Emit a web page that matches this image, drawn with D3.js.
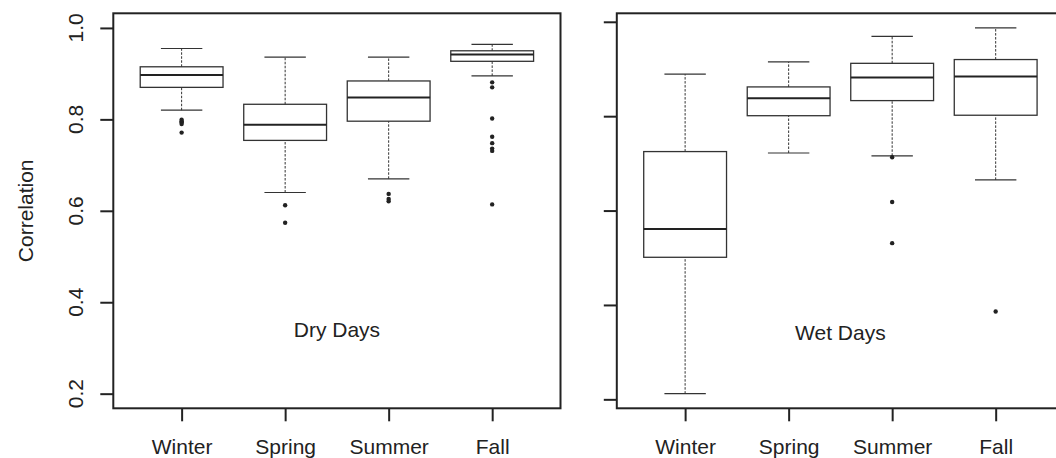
<!DOCTYPE html>
<html>
<head>
<meta charset="utf-8">
<script src="https://cdn.jsdelivr.net/npm/d3@7"></script>
<style>
  body { margin: 0; background: #fff; }
  svg text { font-family: "Liberation Sans", Arial, Helvetica, sans-serif; fill: #222; }
</style>
</head>
<body>
<svg id="chart" width="1056" height="458"></svg>
<script>
// ***** Data ***** //
var seasons = ['Winter', 'Spring', 'Summer', 'Fall'];

// [lower whisker, Q1, median, Q3, upper whisker]
var dryStats = [
    [0.820, 0.870, 0.897, 0.915, 0.955],
    [0.640, 0.754, 0.788, 0.833, 0.936],
    [0.670, 0.796, 0.848, 0.884, 0.936],
    [0.895, 0.927, 0.942, 0.950, 0.964]
];
var dryOutliers = [
    [0.799, 0.796, 0.793, 0.790, 0.771],
    [0.612, 0.574],
    [0.637, 0.626, 0.621],
    [0.881, 0.870, 0.802, 0.762, 0.748, 0.736, 0.731, 0.614]
];

var wetStats = [
    [0.212, 0.501, 0.561, 0.725, 0.889],
    [0.722, 0.801, 0.838, 0.862, 0.915],
    [0.716, 0.833, 0.882, 0.912, 0.969],
    [0.665, 0.802, 0.884, 0.920, 0.987]
];
var wetOutliers = [
    [],
    [],
    [0.713, 0.618, 0.531],
    [0.386]
];

var yTicks = [0.2, 0.4, 0.6, 0.8, 1.0];
var dryYlim = [0.2, 1.0];
var yLabel = 'Correlation';

// ***** Layout ***** //
var svg = d3.select('#chart');
var plotTop = 13.3, plotBottom = 408.3, plotW = 447.2;
var fontSize = '21px';

function pad(lim) {
    var r = (lim[1] - lim[0]) * 0.04;
    return [lim[0] - r, lim[1] + r];
}

function drawPanel(left, stats, outliers, ylim, title, showLabels) {
    var x = d3.scaleLinear().domain(pad([0.5, seasons.length + 0.5])).range([left, left + plotW]);
    var y = d3.scaleLinear().domain(pad(ylim)).range([plotBottom, plotTop]);
    var g = svg.append('g');
    var bw = 0.4, cw = 0.2;

    // whiskers
    stats.forEach(function (s, i) {
        var cx = x(i + 1);
        [[s[0], s[1]], [s[3], s[4]]].forEach(function (seg) {
            g.append('line')
                .attr('x1', cx).attr('x2', cx)
                .attr('y1', y(seg[0])).attr('y2', y(seg[1]))
                .attr('stroke', '#333').attr('stroke-width', 1)
                .attr('stroke-dasharray', '2.5,1.5');
        });
        [s[0], s[4]].forEach(function (v) {
            g.append('line')
                .attr('x1', x(i + 1 - cw)).attr('x2', x(i + 1 + cw))
                .attr('y1', y(v)).attr('y2', y(v))
                .attr('stroke', '#333').attr('stroke-width', 1.2);
        });
        g.append('rect')
            .attr('x', x(i + 1 - bw)).attr('y', y(s[3]))
            .attr('width', x(i + 1 + bw) - x(i + 1 - bw))
            .attr('height', y(s[1]) - y(s[3]))
            .attr('fill', 'none').attr('stroke', '#333').attr('stroke-width', 1.3);
        g.append('line')
            .attr('x1', x(i + 1 - bw)).attr('x2', x(i + 1 + bw))
            .attr('y1', y(s[2])).attr('y2', y(s[2]))
            .attr('stroke', '#222').attr('stroke-width', 2);
    });

    // outliers
    outliers.forEach(function (arr, i) {
        g.selectAll(null).data(arr).enter().append('circle')
            .attr('cx', x(i + 1)).attr('cy', function (d) { return y(d); })
            .attr('r', 2.2).attr('fill', '#222');
    });

    // frame
    g.append('rect')
        .attr('x', x.range()[0]).attr('y', plotTop)
        .attr('width', plotW).attr('height', plotBottom - plotTop)
        .attr('fill', 'none').attr('stroke', '#222').attr('stroke-width', 2);

    // y axis
    var yAx = g.append('g').attr('transform', 'translate(' + x.range()[0] + ',0)')
        .call(d3.axisLeft(y).tickValues(yTicks).tickSize(13).tickFormat(d3.format('.1f')));
    yAx.select('.domain').remove();
    yAx.selectAll('.tick line').attr('stroke', '#222').attr('stroke-width', 2);
    yAx.selectAll('.tick text').remove();
    if (showLabels) {
        yTicks.forEach(function (t) {
            g.append('text')
                .attr('transform', 'translate(83,' + y(t) + ') rotate(-90)')
                .attr('text-anchor', 'middle')
                .style('font-size', fontSize)
                .text(d3.format('.1f')(t));
        });
    }

    // x axis
    var xAx = g.append('g').attr('transform', 'translate(0,' + plotBottom + ')')
        .call(d3.axisBottom(x).tickValues(d3.range(1, seasons.length + 1)).tickSize(13)
            .tickFormat(function (d) { return seasons[d - 1]; }));
    xAx.select('.domain').remove();
    xAx.selectAll('.tick line').attr('stroke', '#222').attr('stroke-width', 2);
    xAx.selectAll('.tick text')
        .attr('y', 46).attr('dy', 0)
        .style('font-size', fontSize)
        .style('font-family', '"Liberation Sans", Arial, Helvetica, sans-serif')
        .attr('fill', '#222');

    // panel title
    g.append('text')
        .attr('x', x(2.5)).attr('y', y(0.34) + 7)
        .attr('text-anchor', 'middle')
        .style('font-size', fontSize)
        .text(title);
}

var wetExtent = d3.extent(d3.merge(wetStats.concat(wetOutliers)));

drawPanel(113.3, dryStats, dryOutliers, dryYlim, 'Dry Days', true);
drawPanel(616.8, wetStats, wetOutliers, wetExtent, 'Wet Days', false);

svg.append('text')
    .attr('transform', 'translate(33,' + (plotTop + plotBottom) / 2 + ') rotate(-90)')
    .attr('text-anchor', 'middle')
    .style('font-size', fontSize)
    .text(yLabel);
</script>
</body>
</html>
